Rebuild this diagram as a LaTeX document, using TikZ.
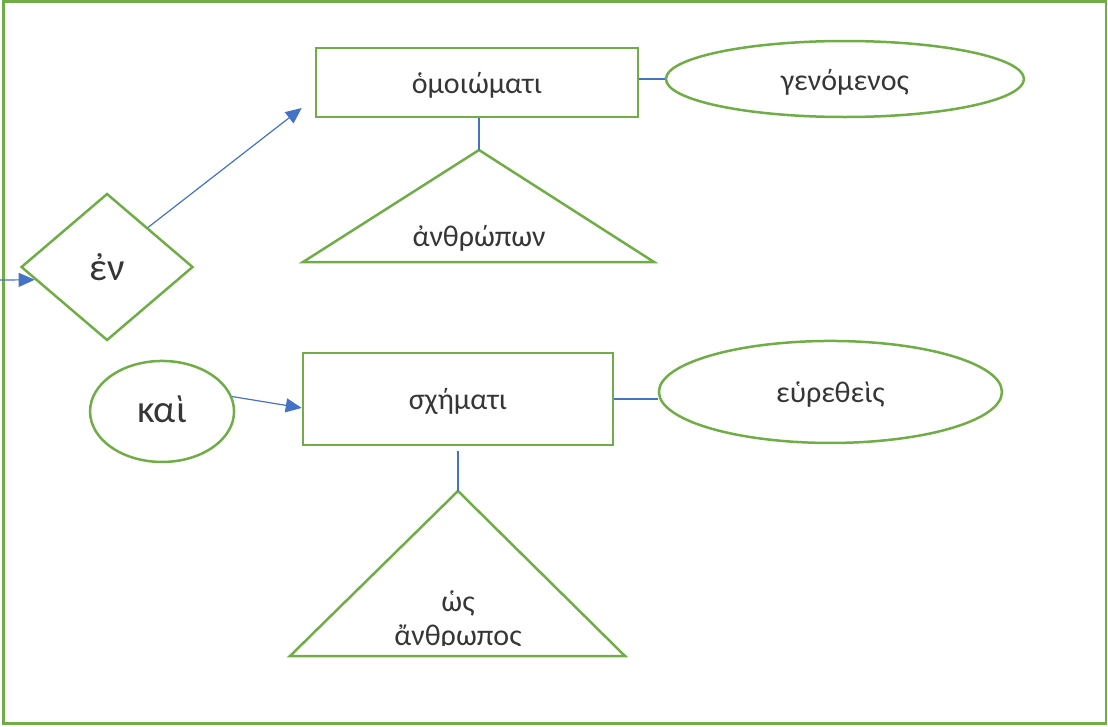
\documentclass[tikz,border=0pt]{standalone}
\usepackage{fontspec}
\setmainfont{Carlito}
\usepackage{tikz}
\usetikzlibrary{shapes.geometric, arrows.meta}
\definecolor{frgreen}{HTML}{70AD47}
\definecolor{lnblue}{HTML}{4472C4}
\definecolor{txtgray}{HTML}{363636}
\tikzstyle{box} = [rectangle, minimum width=322pt, minimum height=69pt, inner sep=0pt, text height=26pt, text depth=4pt, text centered, draw=frgreen, line width=2.5pt, text=txtgray, font=\fontsize{30}{34}\selectfont]
\tikzstyle{oval} = [ellipse, inner sep=0pt, text height=26pt, text depth=4pt, text centered, draw=frgreen, line width=2.5pt, text=txtgray, font=\fontsize{30}{34}\selectfont]
\tikzstyle{rhomb} = [diamond, minimum width=172pt, minimum height=147pt, inner sep=0pt, text centered, draw=frgreen, line width=2.5pt, text=txtgray, font=\fontsize{39}{44}\selectfont]
\tikzstyle{bigtext} = [font=\fontsize{39}{44}\selectfont, text height=30pt, text depth=8pt]
\tikzstyle{tri} = [draw=frgreen, line width=2.5pt, line join=miter]
\tikzstyle{tritext} = [align=center, inner sep=0pt, text=txtgray, font=\fontsize{30}{34}\selectfont]
\tikzstyle{link} = [draw=lnblue, line width=1.2pt]
\tikzstyle{arrow} = [draw=lnblue, line width=1.2pt, -{Triangle[length=16pt, width=14pt]}, color=lnblue]

\begin{document}
\begin{tikzpicture}[x=1pt, y=-1pt]
\useasboundingbox (0,0) rectangle (1108,726);
\draw[frgreen, line width=2.5pt] (3.5,1.7) rectangle (1106,723.7);

\node (rect1) [box] at (477,82.5) {ὁμοιώματι};
\node (en) [rhomb, left of=rect1, xshift=-341.5pt, yshift=-184.5pt] {ἐν};
\node (ell1) [oval, minimum width=358pt, minimum height=76pt, right of=rect1, xshift=339.5pt, yshift=3.5pt] {γενόμενος};
\node (kai) [oval, bigtext, minimum width=144pt, minimum height=101pt, below of=en, xshift=55pt, yshift=-116pt] {καὶ};
\node (rect2) [box, minimum width=310pt, minimum height=92pt, right of=kai, xshift=267.5pt, yshift=12.5pt] {σχήματι};
\node (ell2) [oval, minimum width=343pt, minimum height=102pt, right of=rect2, xshift=344pt, yshift=7pt] {εὑρεθεὶς};

\coordinate (tri1top) at (479,150);
\coordinate (tri2top) at (458,491);
\coordinate (instart) at (0,280);
\draw[tri] (tri1top) -- (303,262) -- (654,262) -- cycle;
\draw[tri] (tri2top) -- (290,656) -- (625,656) -- cycle;
\node (tri1) [tritext] at (479,238) {ἀνθρώπων};
\begin{scope}
\clip (0,0) rectangle (1108,645);
\node (tri2) [tritext] at (458,621) {ὡς\\ἄνθρωπος};
\end{scope}

\draw[arrow] (instart) -- (en.190);
\draw[arrow] (en.44) -- ([xshift=-13pt, yshift=-25.5pt]rect1.west);
\draw[arrow] (kai.12) -- ([yshift=-9pt]rect2.west);
\draw[link] (rect1.east |- ell1.west) -- (ell1.west);
\draw[link] (tri1top |- rect1.south) -- (tri1top);
\draw[link] (rect2.east) -- (rect2.east -| ell2.west);
\draw[link] ([yshift=-5pt]rect2.south) -- (tri2top);
\end{tikzpicture}
\end{document}
